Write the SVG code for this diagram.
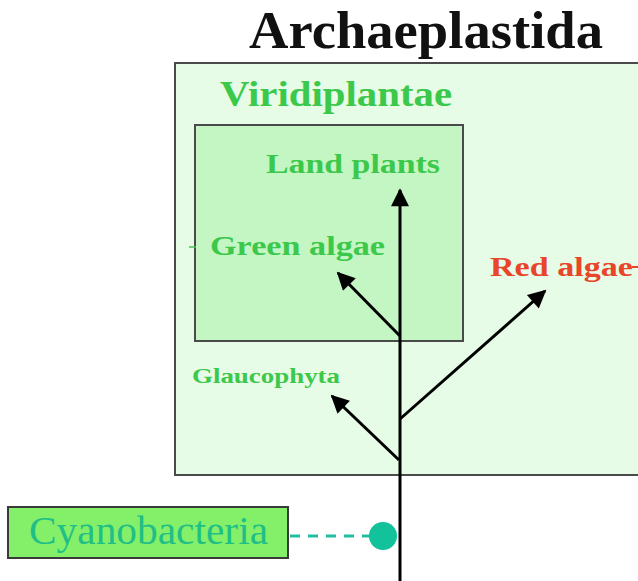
<svg xmlns="http://www.w3.org/2000/svg" width="638" height="581" viewBox="0 0 638 581">
<defs>
<style>
.t{font-family:"Liberation Serif","Times New Roman",serif;font-weight:bold}
.g{fill:#3cc84a}
.br{stroke:#000;stroke-width:3;fill:none}
</style>
<marker id="ah" viewBox="0 0 10 10" refX="9" refY="5" markerWidth="6.5" markerHeight="6" orient="auto" markerUnits="strokeWidth">
<path d="M0,0 L10,5 L0,10 z" fill="#000"/>
</marker>
</defs>
<rect width="638" height="581" fill="#fff"/>
<g id="archaeplastida">
<rect x="175" y="63" width="470" height="412" fill="#e6fce6" stroke="#4a4a4a" stroke-width="2"/>
<text class="t" x="249" y="48" font-size="52" textLength="354" lengthAdjust="spacingAndGlyphs" fill="#111">Archaeplastida</text>
</g>
<g id="viridiplantae">
<rect x="195" y="125" width="268" height="216" fill="#c4f6c4" stroke="#4a4a4a" stroke-width="2"/>
<text class="t g" x="220" y="106" font-size="36" textLength="232" lengthAdjust="spacingAndGlyphs">Viridiplantae</text>
</g>
<g id="land-plants"><text class="t g" x="266" y="173" font-size="28" textLength="174" lengthAdjust="spacingAndGlyphs">Land plants</text></g>
<g id="green-algae">
<line x1="189" y1="247" x2="196" y2="247" stroke="#3cc84a" stroke-width="1.5"/>
<text class="t g" x="210" y="255" font-size="28" textLength="175" lengthAdjust="spacingAndGlyphs">Green algae</text>
</g>
<g id="red-algae">
<text class="t" x="490" y="276" font-size="28" textLength="143" lengthAdjust="spacingAndGlyphs" fill="#e8452a">Red algae</text>
<line x1="632" y1="267" x2="638" y2="267" stroke="#e8452a" stroke-width="2"/>
</g>
<g id="glaucophyta"><text class="t g" x="192" y="383" font-size="21" textLength="148" lengthAdjust="spacingAndGlyphs">Glaucophyta</text></g>
<g id="cyanobacteria">
<rect x="8" y="507" width="280" height="51" fill="#84f06a" stroke="#3a3a3a" stroke-width="2"/>
<text x="29" y="544" font-family="Liberation Serif,Times New Roman,serif" font-size="40" textLength="239" lengthAdjust="spacingAndGlyphs" fill="#1fbf86">Cyanobacteria</text>
</g>
<g id="connectors">
<line x1="400" y1="581" x2="400" y2="190" class="br" marker-end="url(#ah)"/>
<line x1="400" y1="336" x2="338" y2="273" class="br" marker-end="url(#ah)"/>
<line x1="400" y1="419" x2="545" y2="291" class="br" marker-end="url(#ah)"/>
<line x1="399" y1="460" x2="332" y2="396" class="br" marker-end="url(#ah)"/>
<line x1="290" y1="536" x2="370" y2="536" stroke="#1fbfa0" stroke-width="3" stroke-dasharray="10,8"/>
<circle cx="383" cy="536" r="14" fill="#12c29a"/>
</g>
</svg>
